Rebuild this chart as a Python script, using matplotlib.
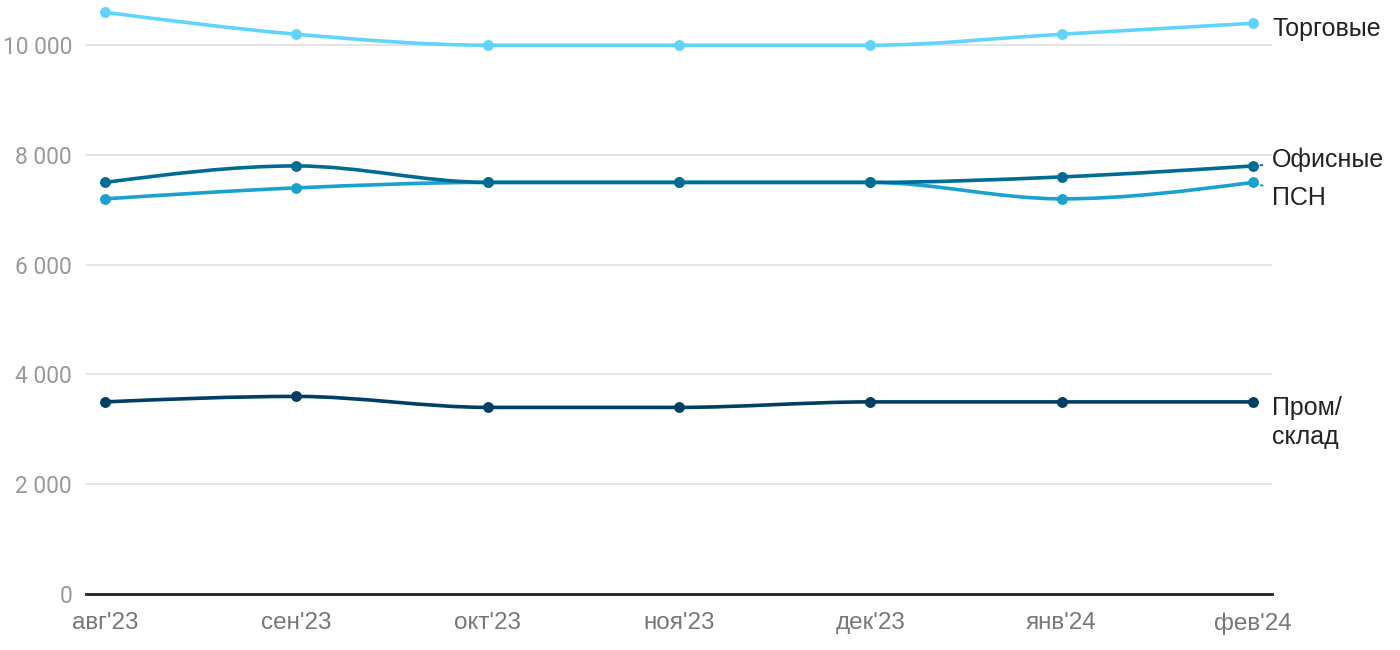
import numpy as np
import matplotlib
matplotlib.use("Agg")
from matplotlib import pyplot as plt
from matplotlib.path import Path
from matplotlib.patches import PathPatch

months = ["авг'23", "сен'23", "окт'23", "ноя'23", "дек'23", "янв'24", "фев'24"]
torg = [10600, 10200, 10000, 10000, 10000, 10200, 10400]
psn = [7200, 7400, 7500, 7500, 7500, 7200, 7500]
ofis = [7500, 7800, 7500, 7500, 7500, 7600, 7800]
prom = [3500, 3600, 3400, 3400, 3500, 3500, 3500]
yticks = [0, 2000, 4000, 6000, 8000, 10000]
ytick_labels = ["0", "2 000", "4 000", "6 000", "8 000", "10 000"]

series = [
    ("Торговые", torg, "#5fd4fc"),
    ("ПСН", psn, "#1ba1cf"),
    ("Офисные", ofis, "#006c93"),
    ("Пром/\nсклад", prom, "#003e63"),
]


def monotone_path(x, y):
    # кривая как d3.curveMonotoneX, через кубические Безье
    x = np.asarray(x, float)
    y = np.asarray(y, float)
    n = len(x)
    h = np.diff(x)
    s = np.diff(y) / h
    t = np.zeros(n)
    for i in range(1, n - 1):
        p = (s[i - 1] * h[i] + s[i] * h[i - 1]) / (h[i - 1] + h[i])
        t[i] = (np.sign(s[i - 1]) + np.sign(s[i])) * min(abs(s[i - 1]), abs(s[i]), 0.5 * abs(p))
    t[0] = (3 * s[0] - t[1]) / 2
    t[-1] = (3 * s[-1] - t[-2]) / 2
    verts = [(x[0], y[0])]
    codes = [Path.MOVETO]
    for i in range(n - 1):
        dx = h[i] / 3
        verts += [(x[i] + dx, y[i] + dx * t[i]),
                  (x[i + 1] - dx, y[i + 1] - dx * t[i + 1]),
                  (x[i + 1], y[i + 1])]
        codes += [Path.CURVE4] * 3
    return Path(verts, codes)


fig = plt.figure(figsize=(14, 6.5), dpi=100)
ax = fig.add_axes([0.0614, 0.0862, 0.8472, 0.9118])

xs = np.arange(len(months))
for name, vals, color in series:
    ax.add_patch(PathPatch(monotone_path(xs, vals), facecolor="none",
                           edgecolor=color, lw=2.6, capstyle="round", zorder=3))
    ax.plot(xs, vals, "o", color=color, ms=6.8, zorder=4)

ax.set_xlim(-0.1, 6.1)
ax.set_ylim(0, 10800)
ax.set_yticks(yticks)
ax.set_yticklabels(ytick_labels, fontfamily="Roboto", fontsize=16.4, color="#999999")
ax.set_xticks(xs)
ax.set_xticklabels(months, fontfamily="Liberation Sans", fontsize=17.5, color="#777777")
ax.tick_params(length=0, axis="y", pad=10)
ax.tick_params(length=0, axis="x", pad=13)
ax.grid(axis="y", color="#e2e2e2", lw=1.3)
ax.set_axisbelow(True)
for sp in ["top", "right", "left"]:
    ax.spines[sp].set_visible(False)
ax.spines["bottom"].set_color("#222222")
ax.spines["bottom"].set_linewidth(2)
ax.spines["bottom"].set_zorder(5)

# подписи справа
lx = 6.1
lab_kw = dict(fontfamily="Liberation Sans", fontsize=18, color="#222222",
              annotation_clip=False)
ax.annotate("Торговые", xy=(6, torg[-1]), xytext=(lx, torg[-1] - 100),
            va="center", ha="left", **lab_kw)
ax.annotate("Офисные", xy=(6, ofis[-1]), xytext=(lx, ofis[-1] + 120),
            va="center", ha="left",
            arrowprops=dict(arrowstyle="-", color="#006c93", ls=(0, (1, 1.5)), lw=1.4,
                            shrinkA=5, shrinkB=2), **lab_kw)
ax.annotate("ПСН", xy=(6, psn[-1]), xytext=(lx, psn[-1] - 280),
            va="center", ha="left",
            arrowprops=dict(arrowstyle="-", color="#1ba1cf", ls=(0, (1, 1.5)), lw=1.4,
                            shrinkA=5, shrinkB=2), **lab_kw)
ax.annotate("Пром/\nсклад", xy=(6, prom[-1]), xytext=(lx, prom[-1] + 110),
            va="top", ha="left", linespacing=1.25, **lab_kw)

fig.savefig("out.png", dpi=100)
